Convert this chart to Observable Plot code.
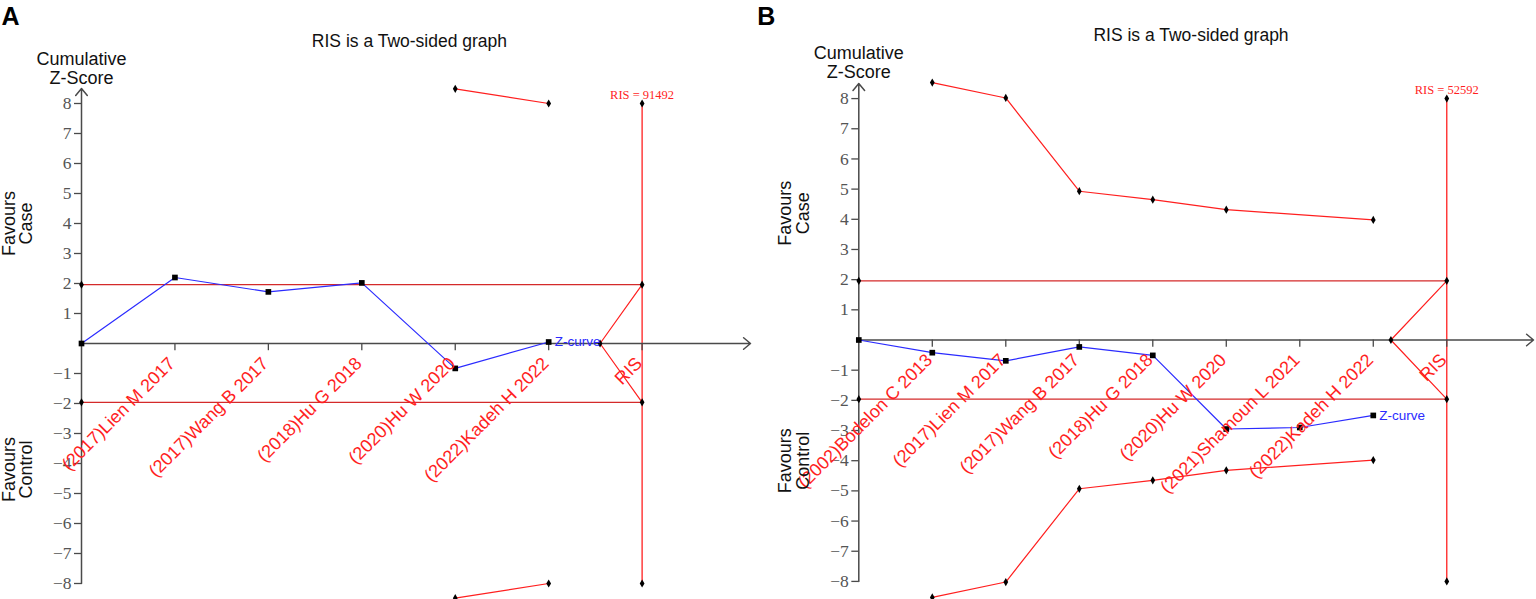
<!DOCTYPE html>
<html>
<head>
<meta charset="utf-8">
<script src="https://cdn.jsdelivr.net/npm/d3@7"></script>
<script src="https://cdn.jsdelivr.net/npm/@observablehq/plot@0.6"></script>
<style>
  html, body { margin: 0; padding: 0; background: white; }
  #row { display: flex; flex-direction: row; width: 1536px; height: 599px; overflow: hidden; }
  #row svg { flex: none; }
</style>
</head>
<body>
<div id="row"></div>
<script>
// ---------- data ----------
const studiesA = ["(2017)Lien M 2017", "(2017)Wang B 2017", "(2018)Hu G 2018", "(2020)Hu W 2020", "(2022)Kadeh H 2022"];
const zCurveA = [0, 2.20, 1.72, 2.02, -0.83, 0.05];
const boundIndexA = [4, 5];
const boundA = [8.49, 8.00];
const risA = 91492;
const risApexA = 5.55;

const studiesB = ["(2002)Bodelon C 2013", "(2017)Lien M 2017", "(2017)Wang B 2017", "(2018)Hu G 2018", "(2020)Hu W 2020", "(2021)Shamoun L 2021", "(2022)Kadeh H 2022"];
const zCurveB = [0, -0.42, -0.69, -0.23, -0.51, -2.95, -2.90, -2.50];
const boundIndexB = [1, 2, 3, 4, 5, 7];
const boundB = [8.53, 8.02, 4.93, 4.65, 4.32, 3.98];
const risB = 52592;
const risApexB = 7.24;

const zCritical = 1.96;
const risLimit = 8;
const yTicks = [-8, -7, -6, -5, -4, -3, -2, -1, 1, 2, 3, 4, 5, 6, 7, 8];
const titleText = "RIS is a Two-sided graph";
const yAxisTitle = "Cumulative\nZ-Score";
const favoursCase = "Favours\nCase";
const favoursControl = "Favours\nControl";
const zCurveLabel = "Z-curve";
const risTickLabel = "RIS";

// ---------- styles ----------
const RED = "#ff1f1f";
const CRIT_RED = "#d42a2a";
const BLUE = "#2b2bff";
const AXIS = "#4a4a4a";
const SANS = "'Liberation Sans', Arial, sans-serif";
const SERIF = "'Liberation Serif', 'Times New Roman', serif";

function panel(cfg) {
  const {letter, studies, zCurve, boundIndex, bound, ris, apex, layout} = cfg;
  const risIdx = studies.length + 1;
  const zPts = zCurve.map((v, i) => ({x: i, y: v}));
  const upper = boundIndex.map((i, k) => ({x: i, y: bound[k]}));
  const lower = boundIndex.map((i, k) => ({x: i, y: -bound[k]}));
  const tickIdx = d3.range(1, risIdx + 1);
  const labels = studies.map((s, k) => ({x: k + 1, text: s})).concat([{x: risIdx, text: risTickLabel}]);
  const blackDots = [
    ...upper, ...lower,
    {x: 0, y: zCritical}, {x: 0, y: -zCritical},
    {x: risIdx, y: zCritical}, {x: risIdx, y: -zCritical},
    {x: risIdx, y: risLimit}, {x: risIdx, y: -risLimit},
    {x: apex, y: 0}
  ];
  const fmt = d => d < 0 ? "\u2212" + (-d) : String(d);
  return Plot.plot({
    width: layout.width,
    height: 599,
    marginLeft: layout.marginLeft,
    marginRight: layout.marginRight,
    marginTop: layout.marginTop,
    marginBottom: layout.marginBottom,
    x: {domain: [0, layout.xMax], axis: null},
    y: {domain: [-8.5, 8.5], axis: null},
    style: {fontFamily: SANS, fontSize: "17px", background: "white", overflow: "visible"},
    marks: [
      // critical lines +-1.96
      Plot.ruleY([zCritical, -zCritical], {x1: 0, x2: risIdx, stroke: CRIT_RED, strokeWidth: 1.2}),
      // RIS vertical
      Plot.ruleX([risIdx], {y1: -risLimit, y2: risLimit, stroke: RED, strokeWidth: 1.3}),
      // RIS triangle
      Plot.line([{x: risIdx, y: zCritical}, {x: apex, y: 0}, {x: risIdx, y: -zCritical}], {x: "x", y: "y", stroke: RED, strokeWidth: 1.2}),
      // axes
      Plot.arrow([{x1: 0, y1: -8, x2: 0, y2: 8.5}], {x1: "x1", y1: "y1", x2: "x2", y2: "y2", stroke: AXIS, strokeWidth: 1.5, headLength: 9, headAngle: 80}),
      Plot.arrow([{x1: 0, y1: 0, x2: layout.xMax, y2: 0}], {x1: "x1", y1: "y1", x2: "x2", y2: "y2", stroke: AXIS, strokeWidth: 1.5, headLength: 9, headAngle: 80}),
      Plot.ruleX(tickIdx, {y1: 0, y2: -0.24, stroke: AXIS, strokeWidth: 1.3}),
      // y ticks and labels
      Plot.ruleY(yTicks, {x1: -layout.yTickLen, x2: 0, stroke: AXIS, strokeWidth: 1.3}),
      Plot.text(yTicks, {x: () => 0, y: d => d, text: fmt, textAnchor: "end", dx: -10, fontSize: 17.5, fontFamily: SERIF, fill: "#555"}),
      // boundaries
      Plot.line(upper, {x: "x", y: "y", stroke: RED, strokeWidth: 1.2}),
      Plot.line(lower, {x: "x", y: "y", stroke: RED, strokeWidth: 1.2}),
      // Z-curve
      Plot.line(zPts, {x: "x", y: "y", stroke: BLUE, strokeWidth: 1.2}),
      Plot.dot(blackDots, {x: "x", y: "y", symbol: "diamond", r: 2.5, fill: "black"}),
      Plot.dot(zPts, {x: "x", y: "y", symbol: "square", r: 3.2, fill: "black"}),
      Plot.text([zPts[zPts.length - 1]], {x: "x", y: "y", text: () => zCurveLabel, textAnchor: "start", dx: 6, fill: BLUE, fontSize: 13.5, fontFamily: SANS}),
      // x labels
      Plot.text(labels, {x: "x", y: () => 0, text: "text", rotate: -45, textAnchor: "end", lineAnchor: "middle", dx: -3, dy: 17, fill: RED, fontSize: 18, fontFamily: SANS}),
      // RIS value
      Plot.text([{x: risIdx, y: risLimit}], {x: "x", y: "y", text: () => "RIS = " + ris, dy: -9, fill: RED, fontSize: 12.5, fontFamily: SERIF}),
      // titles
      Plot.text([{x: layout.titleX, y: layout.titleY}], {x: "x", y: "y", text: () => titleText, fontSize: 17.5, fill: "#111", fontFamily: SANS}),
      Plot.text([{x: layout.letterX, y: layout.letterY}], {x: "x", y: "y", text: () => letter, fontSize: 25, fontWeight: "bold", fill: "black", fontFamily: SANS}),
      Plot.text([{x: 0, y: layout.yTitleY}], {x: "x", y: "y", text: () => yAxisTitle, fontSize: 18, lineHeight: 1.08, fill: "#111", fontFamily: SANS}),
      Plot.text([{x: layout.favX, y: layout.caseY}], {x: "x", y: "y", text: () => favoursCase, rotate: -90, fontSize: 18, lineHeight: 0.98, fill: "#111", fontFamily: SANS}),
      Plot.text([{x: layout.favX, y: layout.controlY}], {x: "x", y: "y", text: () => favoursControl, rotate: -90, fontSize: 18, lineHeight: 0.98, fill: "#111", fontFamily: SANS})
    ]
  });
}

const row = document.getElementById("row");
row.appendChild(panel({
  letter: "A", studies: studiesA, zCurve: zCurveA, boundIndex: boundIndexA, bound: boundA, ris: risA, apex: risApexA,
  layout: {width: 752, marginLeft: 81, marginRight: 2, marginTop: 88, marginBottom: 1, xMax: 7.16, yTickLen: 0.075,
    titleX: 3.51, titleY: 10.07, letterX: -0.76, letterY: 10.9, yTitleY: 9.18, favX: -0.68, caseY: 4.0, controlY: -4.2}
}));
row.appendChild(panel({
  letter: "B", studies: studiesB, zCurve: zCurveB, boundIndex: boundIndexB, bound: boundB, ris: risB, apex: risApexB,
  layout: {width: 784, marginLeft: 106.3, marginRight: 3, marginTop: 83, marginBottom: 3, xMax: 9.18, yTickLen: 0.095,
    titleX: 4.52, titleY: 10.08, letterX: -1.26, letterY: 10.7, yTitleY: 9.2, favX: -0.88, caseY: 4.2, controlY: -4.0}
}));
</script>
</body>
</html>
